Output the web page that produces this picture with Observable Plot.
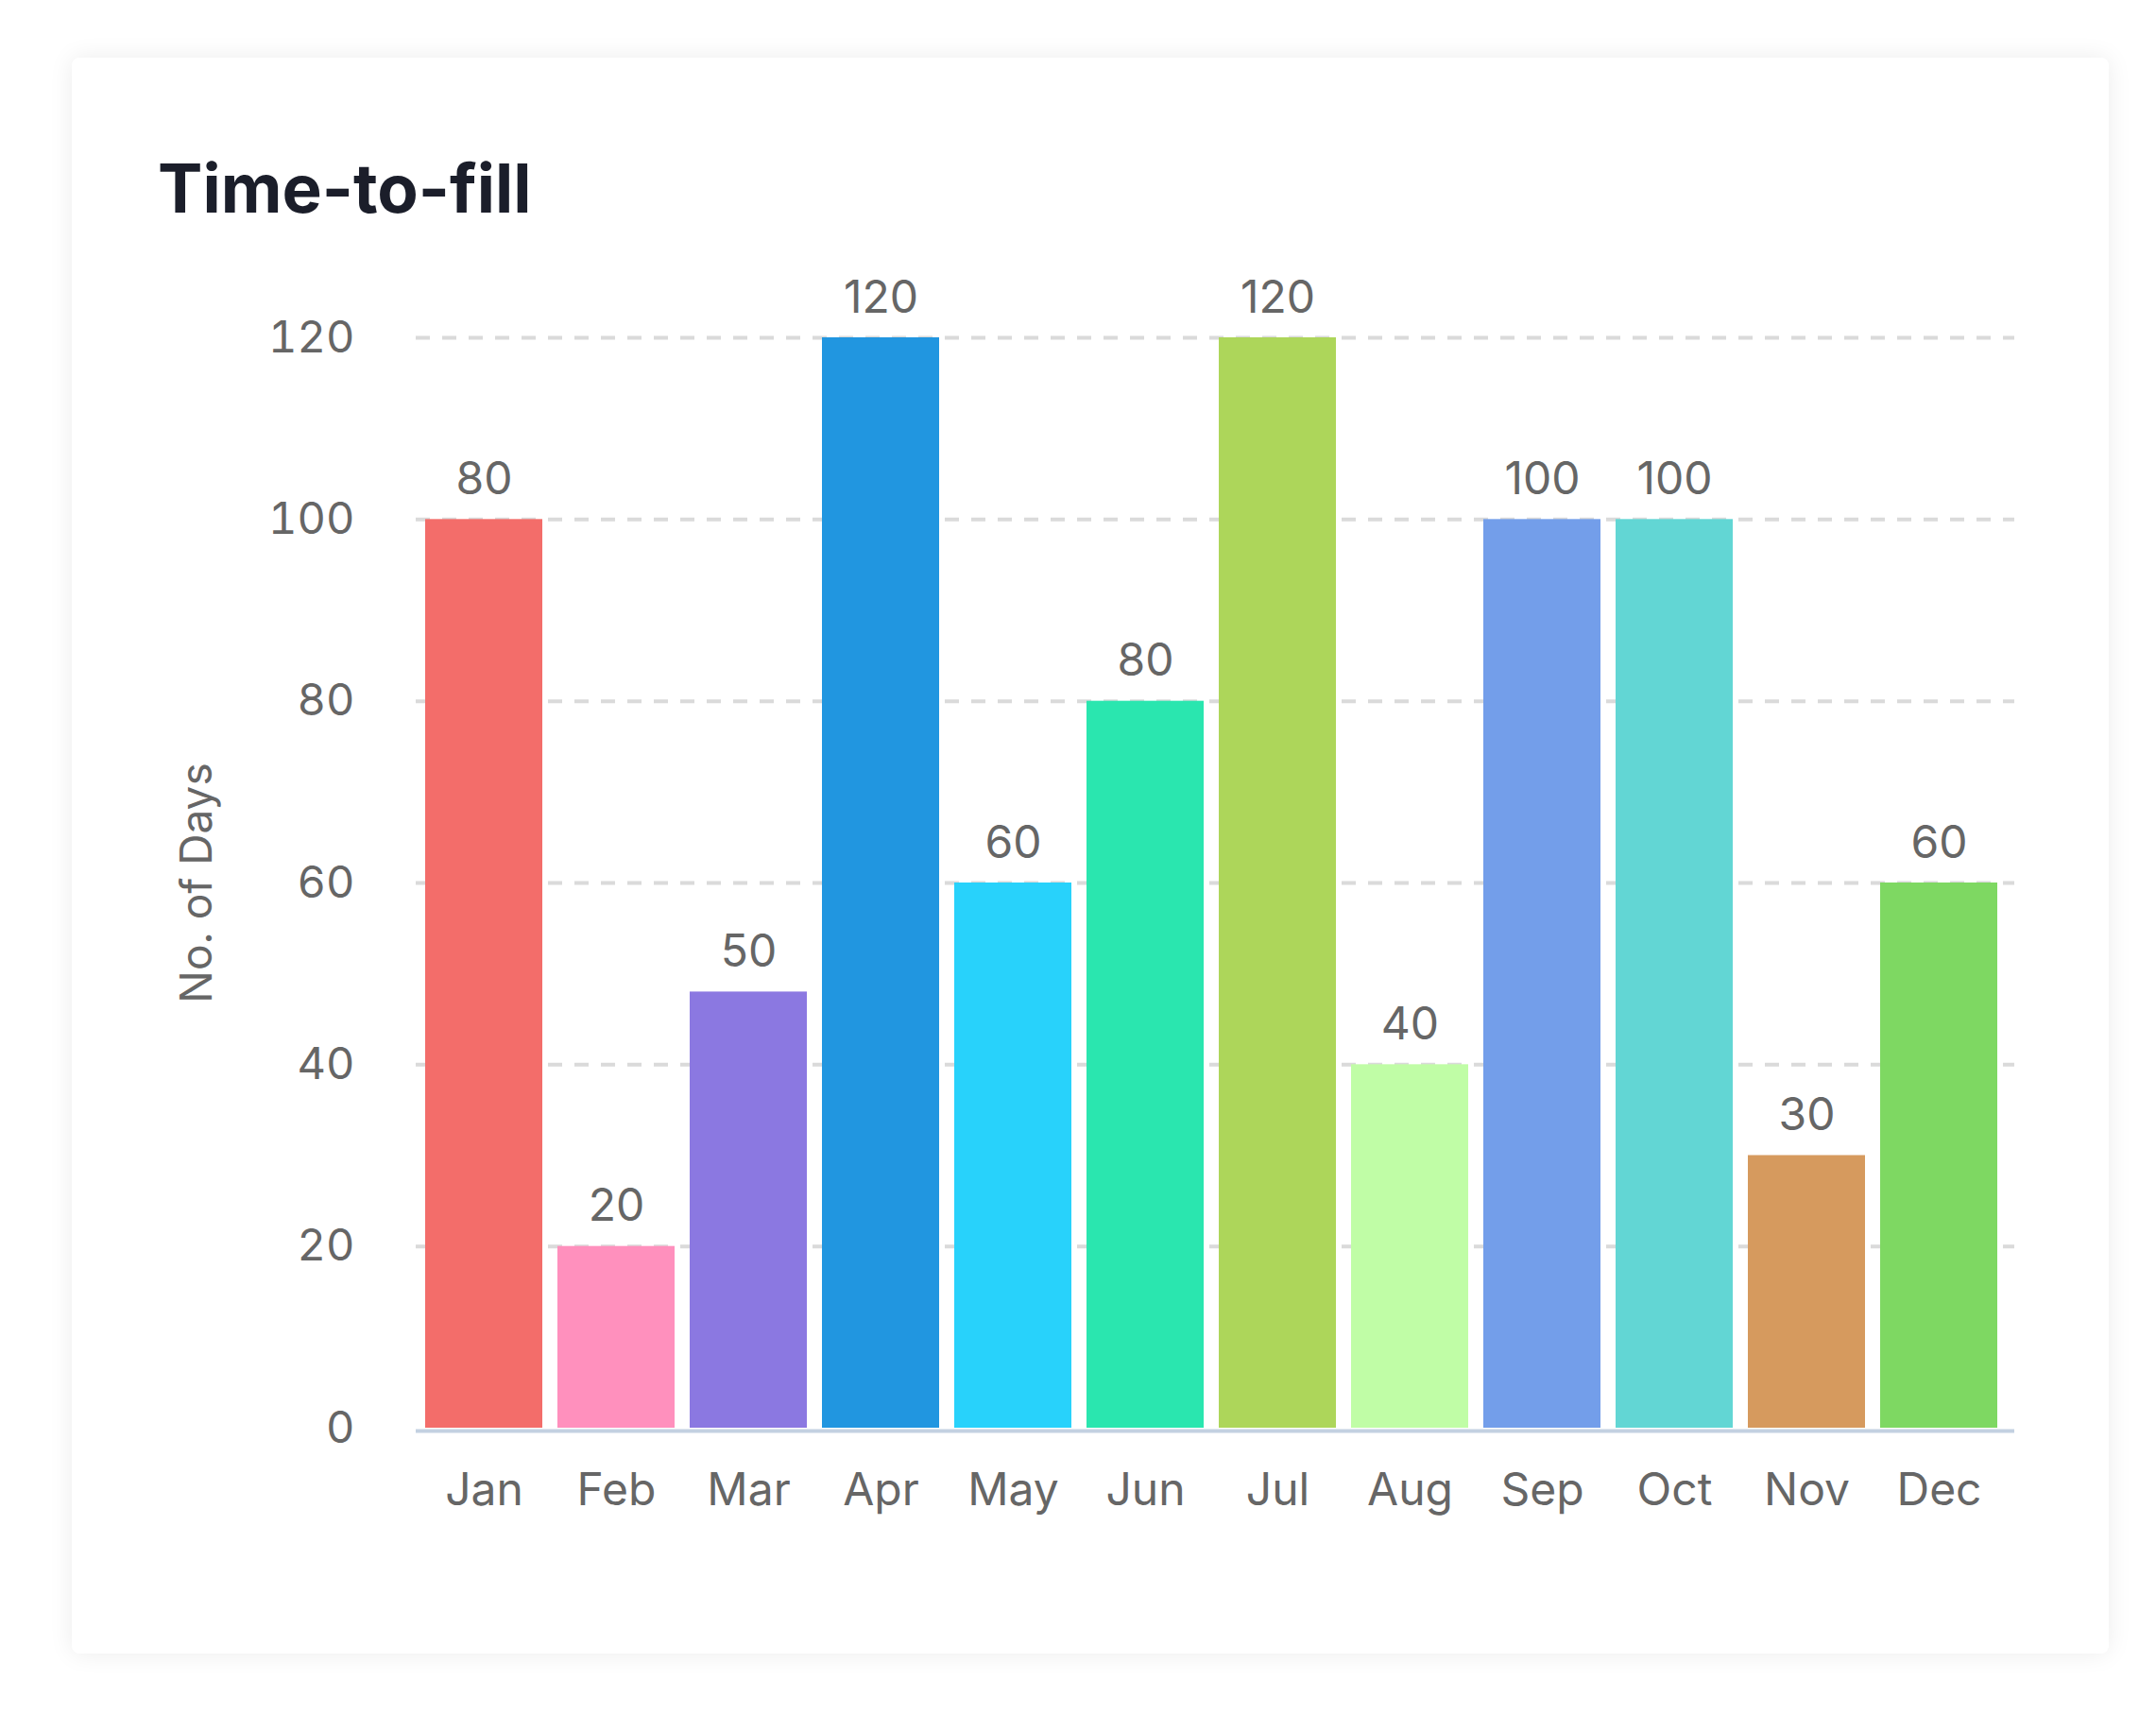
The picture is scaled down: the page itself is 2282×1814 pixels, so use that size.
<!DOCTYPE html>
<html>
<head>
<meta charset="utf-8">
<script src="https://cdn.jsdelivr.net/npm/d3@7"></script>
<script src="https://cdn.jsdelivr.net/npm/@observablehq/plot@0.6"></script>
<style>
  html, body { margin: 0; padding: 0; background: #ffffff; }
  #page { position: relative; width: 2282px; height: 1814px; overflow: hidden; background: #ffffff; }
  #card { position: absolute; left: 76px; top: 61px; width: 2156px; height: 1689px; background: #fff;
          border-radius: 8px; box-shadow: 0 0 26px rgba(0,0,0,0.08); }
  #title { position: absolute; left: 167px; top: 164px; margin: 0; font-family: Inter, "Noto Sans", sans-serif;
           font-weight: 700; font-size: 71px; line-height: 1; color: #1b1e2a; white-space: nowrap; }
  #chart { position: absolute; left: 0; top: 260px; }
</style>
</head>
<body>
<div id="page">
  <div id="card"></div>
  <h1 id="title">Time-to-fill</h1>
  <div id="chart"></div>
</div>
<script>
const months = ["Jan","Feb","Mar","Apr","May","Jun","Jul","Aug","Sep","Oct","Nov","Dec"];
const barValues = [100, 20, 48, 120, 60, 80, 120, 40, 100, 100, 30, 60];
const labelValues = [80, 20, 50, 120, 60, 80, 120, 40, 100, 100, 30, 60];
const barColors = ["#F36D6A","#FF90BD","#8B78E1","#2196E0","#28D2FB","#2AE6AF","#ADD65A","#C0FDA6","#739EEA","#62D6D4","#D69A5E","#7ED862"];
const yTicks = [0, 20, 40, 60, 80, 100, 120];
const yLabel = "No. of Days";

const data = months.map((m, i) => ({month: m, value: barValues[i], label: labelValues[i], color: barColors[i]}));

const chart = Plot.plot({
  width: 2282,
  height: 1554,
  marginTop: 97,
  marginBottom: 303,
  marginLeft: 440,
  marginRight: 150,
  style: {fontFamily: "Inter, 'Noto Sans', sans-serif", fontSize: "48px", color: "#666666", background: "transparent", overflow: "visible"},
  x: {domain: months, range: [450, 2114], paddingInner: 0.1143, paddingOuter: 0, label: null},
  y: {domain: [0, 120], label: null},
  color: {type: "identity"},
  marks: [
    Plot.ruleY(yTicks.filter(d => d > 0), {stroke: "#dadada", strokeWidth: 4, strokeDasharray: "15,13"}),
    Plot.barY(data, {x: "month", y: "value", fill: "color"}),
    Plot.ruleY([0], {stroke: "#c3d1e1", strokeWidth: 4, dy: 3}),
    Plot.text(data, {x: "month", y: "value", text: d => String(d.label), lineAnchor: "bottom", dy: -27, fill: "#666666", fontSize: 48}),
    Plot.axisX({tickSize: 0, tickPadding: 47, fontSize: 48, label: null}),
    Plot.axisY({ticks: yTicks, tickSize: 0, tickPadding: 65, fontSize: 47, label: null}),
    Plot.text([yLabel], {text: d => d, frameAnchor: "left", textAnchor: "middle", dx: -231, rotate: -90, fontSize: 46, fill: "#666666"})
  ]
});
document.getElementById("chart").appendChild(chart);
</script>
</body>
</html>
